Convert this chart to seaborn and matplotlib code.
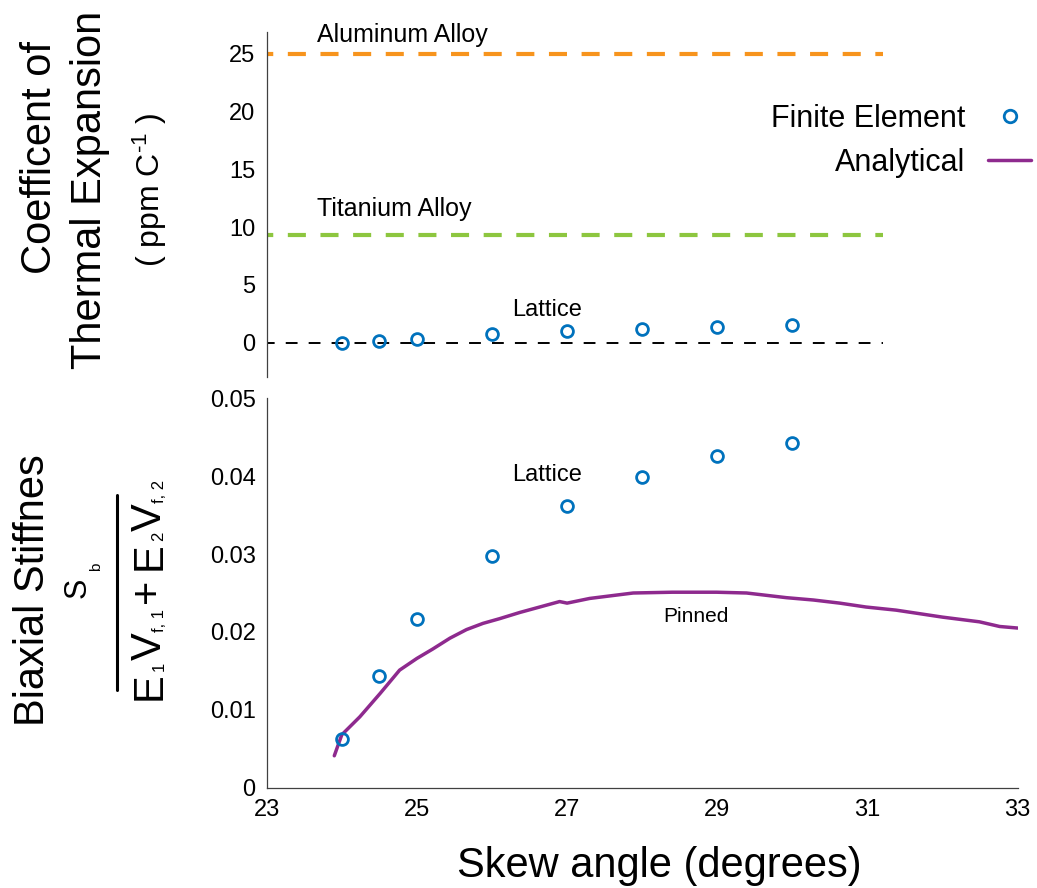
import numpy as np
import pandas as pd
import matplotlib
matplotlib.use("Agg")
import matplotlib.pyplot as plt
import seaborn as sns
from matplotlib.lines import Line2D

# ---------------- data ----------------
skew_fe = [24, 24.5, 25, 26, 27, 28, 29, 30]
cte_fe = [-0.05, 0.15, 0.32, 0.72, 1.01, 1.16, 1.36, 1.53]
stiff_fe = [0.00625, 0.0144, 0.0217, 0.0298, 0.0362, 0.0399, 0.0426, 0.0442]

skew_an = [23.9, 24.0, 24.24, 24.51, 24.77, 25.0, 25.21, 25.44, 25.66, 25.88, 26.1,
           26.37, 26.9, 27.0, 27.3, 27.88, 28.4, 28.99, 29.39, 29.92, 30.28, 30.63,
           30.98, 31.38, 32.0, 32.49, 32.76, 33.0]
stiff_an = [0.0041, 0.0068, 0.0091, 0.0121, 0.0151, 0.0166, 0.0178, 0.0192, 0.0203,
            0.0211, 0.0217, 0.0225, 0.0239, 0.0237, 0.0243, 0.0250, 0.0251, 0.0251,
            0.0250, 0.0244, 0.0241, 0.0237, 0.0232, 0.0228, 0.0219, 0.0213, 0.0207, 0.0205]

ref_x = [23, 31.2]
aluminum_cte = [25.0, 25.0]
titanium_cte = [9.3, 9.3]
lattice_zero = [0.0, 0.0]

top_yticks = [0, 5, 10, 15, 20, 25]
bot_yticks = [0, 0.01, 0.02, 0.03, 0.04, 0.05]
bot_yticklabels = ["0", "0.01", "0.02", "0.03", "0.04", "0.05"]
xticks = [23, 25, 27, 29, 31, 33]

# ---------------- style ----------------
sns.set_theme(style="white")
plt.rcParams["font.family"] = ["Liberation Sans", "DejaVu Sans"]
plt.rcParams["mathtext.fontset"] = "custom"
plt.rcParams["mathtext.rm"] = "Liberation Sans"
plt.rcParams["mathtext.it"] = "Liberation Sans:italic"
plt.rcParams["mathtext.bf"] = "Liberation Sans:bold"
plt.rcParams["lines.scale_dashes"] = False
plt.rcParams["text.color"] = "black"
plt.rcParams["axes.labelcolor"] = "black"

BLUE = "#0072BD"
PURPLE = "#8E2A8E"
ORANGE = "#F7941D"
GREEN = "#8DC63F"
SPINE = "#404040"

W, H = 1037, 888
fig = plt.figure(figsize=(W / 100, H / 100), dpi=100)

def fx(px):
    return px / W

def fy(py):
    return 1 - py / H

left = fx(266.7)
width = fx(1017.7) - left
ax_top = fig.add_axes([left, fy(376.7), width, fy(31.7) - fy(376.7)])
ax_bot = fig.add_axes([left, fy(787.7), width, fy(398.3) - fy(787.7)])

for ax in (ax_top, ax_bot):
    ax.set_facecolor("none")
    for s in ("top", "right"):
        ax.spines[s].set_visible(False)
    for s in ("left", "bottom"):
        ax.spines[s].set_color(SPINE)
        ax.spines[s].set_linewidth(0.9)
    ax.tick_params(direction="in", length=3.8, width=0.8, color=SPINE,
                   labelsize=17, labelcolor="black", pad=8)
    ax.set_xlim(23, 33)

# ---------------- top panel ----------------
ax_top.spines["bottom"].set_visible(False)
ax_top.tick_params(axis="x", bottom=False, labelbottom=False)
sns.lineplot(x=ref_x, y=aluminum_cte, ax=ax_top, color=ORANGE, lw=3.0,
             linestyle=(8.5, (13, 10.5)), legend=False)
sns.lineplot(x=ref_x, y=titanium_cte, ax=ax_top, color=GREEN, lw=3.0,
             linestyle=(8.5, (13, 10.5)), legend=False)
sns.lineplot(x=ref_x, y=lattice_zero, ax=ax_top, color="black", lw=1.4,
             linestyle=(3, (8.5, 8)), legend=False)
sns.lineplot(x=skew_fe, y=cte_fe, ax=ax_top, marker="o", linestyle="none",
             markersize=8.5, markerfacecolor="none", markeredgecolor=BLUE,
             markeredgewidth=2.0, legend=False)
ax_top.set_ylim(-2.94, 26.9)
ax_top.set_yticks(top_yticks)
ax_top.set_xlabel("")
ax_top.set_ylabel("")
ax_top.text(24.81, 26.6, "Aluminum Alloy", fontsize=18, ha="center", va="center")
ax_top.text(24.70, 11.6, "Titanium Alloy", fontsize=18, ha="center", va="center")
ax_top.text(26.73, 2.83, "Lattice", fontsize=17, ha="center", va="center")

# ---------------- bottom panel ----------------
sns.lineplot(x=skew_an, y=stiff_an, ax=ax_bot, color=PURPLE, lw=2.5,
             sort=False, legend=False)
sns.lineplot(x=skew_fe, y=stiff_fe, ax=ax_bot, marker="o", linestyle="none",
             markersize=8.5, markerfacecolor="none", markeredgecolor=BLUE,
             markeredgewidth=2.0, legend=False)
ax_bot.set_ylim(0, 0.05)
ax_bot.set_yticks(bot_yticks)
ax_bot.set_yticklabels(bot_yticklabels)
ax_bot.set_xticks(xticks)
ax_bot.set_xticklabels([str(v) for v in xticks])
ax_bot.set_ylabel("")
ax_bot.set_xlabel("")
ax_bot.text(26.73, 0.0402, "Lattice", fontsize=17, ha="center", va="center")
ax_bot.text(28.72, 0.0220, "Pinned", fontsize=15, ha="center", va="center")

fig.text(fx(659), fy(866), "Skew angle (degrees)", fontsize=30,
         ha="center", va="center")

# ---------------- y labels ----------------
def vtext(px, py, s, size):
    fig.text(fx(px), fy(py), s, rotation=90, fontsize=size,
             ha="center", va="center")

vtext(40, 158, "Coefficent of", 30)
vtext(90, 190, "Thermal Expansion", 30)
vtext(150, 190, r"( ppm C$^{\text{-}\mathregular{1}}$ )", 23)

vtext(33, 590, "Biaxial Stiffnes", 30)
# numerator
vtext(78, 588, "S", 22)
vtext(96, 567, "b", 11)
# fraction bar
fig.add_artist(Line2D([fx(116.7), fx(116.7)], [fy(495), fy(690)],
                      color="black", lw=2.2, transform=fig.transFigure))
# denominator pieces (big letters and small subscripts)
vtext(150, 686, "E", 30)
vtext(159, 666, "1", 12)
vtext(150, 646, "V", 30)
vtext(159, 620, "f, 1", 12)
vtext(148, 591, "+", 30)
vtext(150, 556, "E", 30)
vtext(159, 536, "2", 12)
vtext(150, 517, "V", 30)
vtext(159, 491, "f, 2", 12)

# ---------------- legend ----------------
handles = [
    Line2D([], [], marker="o", linestyle="none", markersize=9,
           markerfacecolor="none", markeredgecolor=BLUE, markeredgewidth=2.0),
    Line2D([], [], color=PURPLE, lw=2.5),
]
fig.legend(handles, ["Finite Element", "Analytical"], loc="upper right",
           bbox_to_anchor=(fx(1031), fy(104)), frameon=False, fontsize=22,
           markerfirst=False, handlelength=1.4, handletextpad=0.75,
           labelspacing=0.45, borderpad=0, borderaxespad=0)

fig.savefig("out.png", dpi=100)
